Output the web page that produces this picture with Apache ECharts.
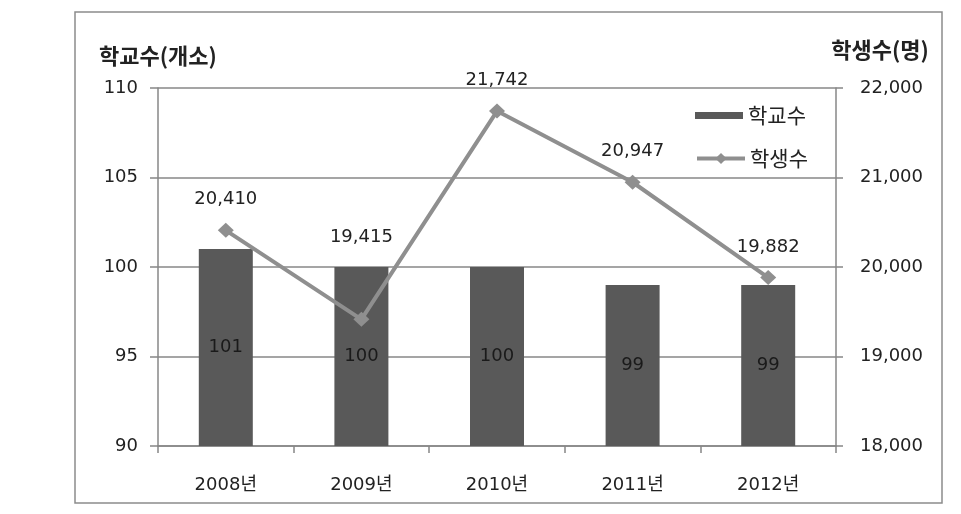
<!DOCTYPE html>
<html>
<head>
<meta charset="utf-8">
<script src="https://cdn.jsdelivr.net/npm/echarts@6/dist/echarts.min.js"></script>
<style>html,body{margin:0;padding:0;background:#fff}#c{width:961px;height:514px}</style>
</head>
<body>
<div id="c"></div>
<script>
var categories = ['2008년', '2009년', '2010년', '2011년', '2012년'];
var schools = [101, 100, 100, 99, 99];
var students = [20410, 19415, 21742, 20947, 19882];
var leftTicks = {min: 90, max: 110, interval: 5};
var rightTicks = {min: 18000, max: 22000, interval: 1000};

var numFont = 'DejaVu Sans';
var krFont = '"Noto Sans CJK KR", sans-serif';
var axisColor = '#878787';

var chart = echarts.init(document.getElementById('c'));

var lineData = students.map(function (v, i) {
  var d = {value: v};
  if (i === 1) d.label = {offset: [0, -52]};
  return d;
});

chart.setOption({
  animation: false,
  graphic: [{
    type: 'rect',
    shape: {x: 75, y: 12, width: 867, height: 491},
    style: {fill: 'none', stroke: '#8c8c8c', lineWidth: 1.5},
    silent: true
  }],
  grid: {left: 158, right: 125, top: 88, bottom: 68},
  legend: [{
    data: ['학교수'],
    left: 690, top: 100,
    icon: 'rect',
    itemWidth: 48, itemHeight: 7, itemGap: 6,
    textStyle: {fontFamily: krFont, fontSize: 21, color: '#222'}
  }, {
    data: ['학생수'],
    left: 690, top: 143,
    itemWidth: 48, itemHeight: 14,
    lineStyle: {width: 4, color: '#8f8f8f'},
    textStyle: {fontFamily: krFont, fontSize: 21, color: '#222'}
  }],
  xAxis: {
    type: 'category',
    data: categories,
    axisLine: {lineStyle: {color: axisColor, width: 1.5}},
    axisTick: {show: true, length: 7, lineStyle: {color: axisColor, width: 1.5}},
    axisLabel: {margin: 30, fontFamily: numFont + ', ' + krFont, fontSize: 18, color: '#222'}
  },
  yAxis: [{
    type: 'value',
    min: leftTicks.min, max: leftTicks.max, interval: leftTicks.interval,
    name: '학교수(개소)',
    nameLocation: 'end',
    nameGap: 21,
    nameTextStyle: {fontFamily: krFont, fontSize: 22, fontWeight: 'bold', color: '#222'},
    axisLine: {show: true, lineStyle: {color: axisColor, width: 1.5}},
    axisTick: {show: true, length: 8, lineStyle: {color: axisColor, width: 1.5}},
    axisLabel: {margin: 20, fontFamily: numFont, fontSize: 18, color: '#222'},
    splitLine: {show: true, lineStyle: {color: axisColor, width: 1.5}}
  }, {
    type: 'value',
    position: 'right',
    min: rightTicks.min, max: rightTicks.max, interval: rightTicks.interval,
    name: '학생수(명)',
    nameLocation: 'end',
    nameGap: 27,
    nameTextStyle: {fontFamily: krFont, fontSize: 22, fontWeight: 'bold', color: '#222', align: 'center', padding: [0, 0, 0, 88]},
    axisLine: {show: true, lineStyle: {color: axisColor, width: 1.5}},
    axisTick: {show: true, length: 7, lineStyle: {color: axisColor, width: 1.5}},
    axisLabel: {margin: 24, fontFamily: numFont, fontSize: 18, color: '#222',
      formatter: function (v) { return v.toLocaleString('en-US'); }},
    splitLine: {show: false}
  }],
  series: [{
    name: '학교수',
    type: 'bar',
    yAxisIndex: 0,
    data: schools,
    barWidth: 54,
    itemStyle: {color: '#595959'},
    label: {show: true, position: 'inside', fontFamily: numFont, fontSize: 18, color: '#1a1a1a'}
  }, {
    name: '학생수',
    type: 'line',
    yAxisIndex: 1,
    data: lineData,
    symbol: 'diamond',
    symbolSize: [16, 15],
    lineStyle: {color: '#8f8f8f', width: 4},
    itemStyle: {color: '#8f8f8f'},
    label: {show: true, position: 'top', distance: 14, fontFamily: numFont, fontSize: 18, color: '#222',
      formatter: function (p) { return p.value.toLocaleString('en-US'); }},
    z: 3
  }]
});
</script>
</body>
</html>
